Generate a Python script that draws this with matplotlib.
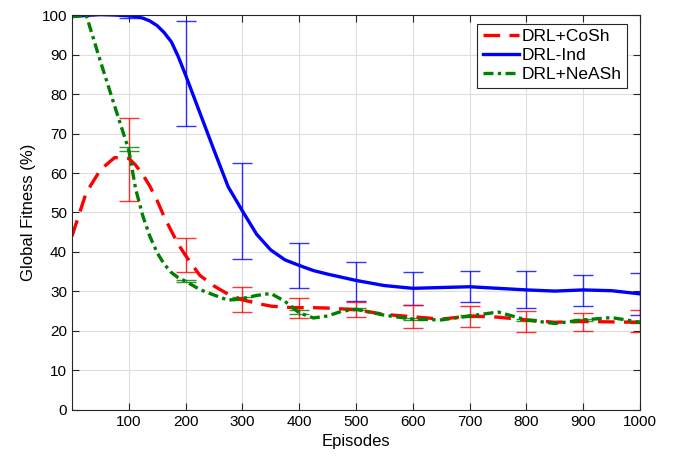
import numpy as np
import matplotlib.pyplot as plt

plt.rcParams['font.family'] = ['Liberation Sans', 'DejaVu Sans']

episodes = [0, 25, 50, 75, 100, 112, 125, 137, 150, 162, 175, 187, 200, 225, 250,
            275, 300, 325, 350, 375, 400, 425, 450, 475, 500, 550, 600, 650, 700,
            750, 800, 850, 900, 950, 1000]

cosh = [44, 55, 60.8, 63.9, 63.7, 62, 59.5, 56.7, 53, 49, 45.3, 42, 39.1, 34.1,
        31.4, 29.3, 27.9, 27, 26.3, 26, 25.9, 25.9, 25.8, 25.6, 25.4, 24.2, 23.6,
        23, 23.8, 23.5, 22.8, 22.2, 22.4, 22.3, 22.2]
ind = [99.6, 99.9, 100.1, 100, 99.8, 99.6, 99.2, 98.5, 97.3, 95.6, 93.2, 89.5,
       84.8, 75.3, 65.8, 56.5, 50.4, 44.5, 40.5, 38, 36.6, 35.3, 34.4, 33.6, 32.8,
       31.5, 30.8, 31, 31.2, 30.8, 30.4, 30.1, 30.4, 30.2, 29.4]
neash = [99.6, 100, 88.3, 77, 65.8, 56, 49, 44, 39.8, 37, 34.8, 33.5, 32.6, 30.5,
         29.1, 27.8, 28.2, 29, 29.5, 27.5, 24.6, 23.3, 23.8, 25, 25.5, 24, 23, 22.8,
         23.8, 24.8, 22.8, 21.9, 22.8, 23.4, 22.2]

# error bars every 100 episodes: centre and half-width
err_x = [100, 200, 300, 400, 500, 600, 700, 800, 900, 1000]
cosh_c = [63.45, 39.2, 28.05, 25.85, 25.5, 23.7, 23.75, 22.45, 22.3, 22.55]
cosh_e = [10.55, 4.3, 3.15, 2.45, 1.9, 2.9, 2.65, 2.65, 2.3, 2.75]
ind_c = [99.6, 85.25, 50.35, 36.6, 32.55, 30.8, 31.3, 30.55, 30.25, 29.3]
ind_e = [0.4, 13.35, 12.25, 5.8, 4.95, 4.2, 4.0, 4.65, 4.05, 5.3]
neash_c = [66, 32.6, 28.2, 24.8, 25.5, 23, 23.8, 22.8, 22.8, 22.2]
neash_e = [0.5, 0.3, 0.3, 0.4, 0.3, 0.3, 0.3, 0.3, 0.3, 0.3]

red, blue, green = '#ff0000', '#0000ff', '#007f00'

fig = plt.figure(figsize=(6.81, 4.62), dpi=100)
ax = fig.add_axes([0.1057, 0.1126, 0.8341, 0.8549])

ebkw = dict(fmt='none', capsize=7, elinewidth=1, capthick=1, alpha=0.8)
ax.errorbar(err_x, ind_c, yerr=ind_e, ecolor=blue, **ebkw)
ax.errorbar(err_x, cosh_c, yerr=cosh_e, ecolor=red, **ebkw)
ax.errorbar(err_x, neash_c, yerr=neash_e, ecolor=green, **ebkw)

ax.plot(episodes, cosh, color=red, lw=2.4, ls=(0, (5, 2.8)), label='DRL+CoSh')
ax.plot(episodes, ind, color=blue, lw=2.4, label='DRL-Ind')
ax.plot(episodes, neash, color=green, lw=2.4, ls=(0, (3, 1.3, 1, 1.3)),
        label='DRL+NeASh')

ax.set_xlim(0, 1000)
ax.set_ylim(0, 100)
ax.set_xticks(range(100, 1001, 100))
ax.set_yticks(range(0, 101, 10))
ax.grid(True, color='#dedede', lw=0.8)
ax.set_axisbelow(True)
ax.tick_params(direction='in', top=True, right=True, labelsize=11,
               color='#262626', length=5)
for s in ax.spines.values():
    s.set_color('#262626')
    s.set_linewidth(0.8)

ax.set_xlabel('Episodes', fontsize=12)
ax.set_ylabel('Global Fitness (%)', fontsize=12)

leg = ax.legend(loc='upper right', fontsize=12.5, fancybox=False, framealpha=1,
                edgecolor='#262626', handlelength=2.1, handletextpad=0.15,
                borderpad=0.3, labelspacing=0.22, borderaxespad=0,
                bbox_to_anchor=(0.977, 0.977))
leg.get_frame().set_linewidth(0.8)

fig.savefig('out.png', dpi=100)
